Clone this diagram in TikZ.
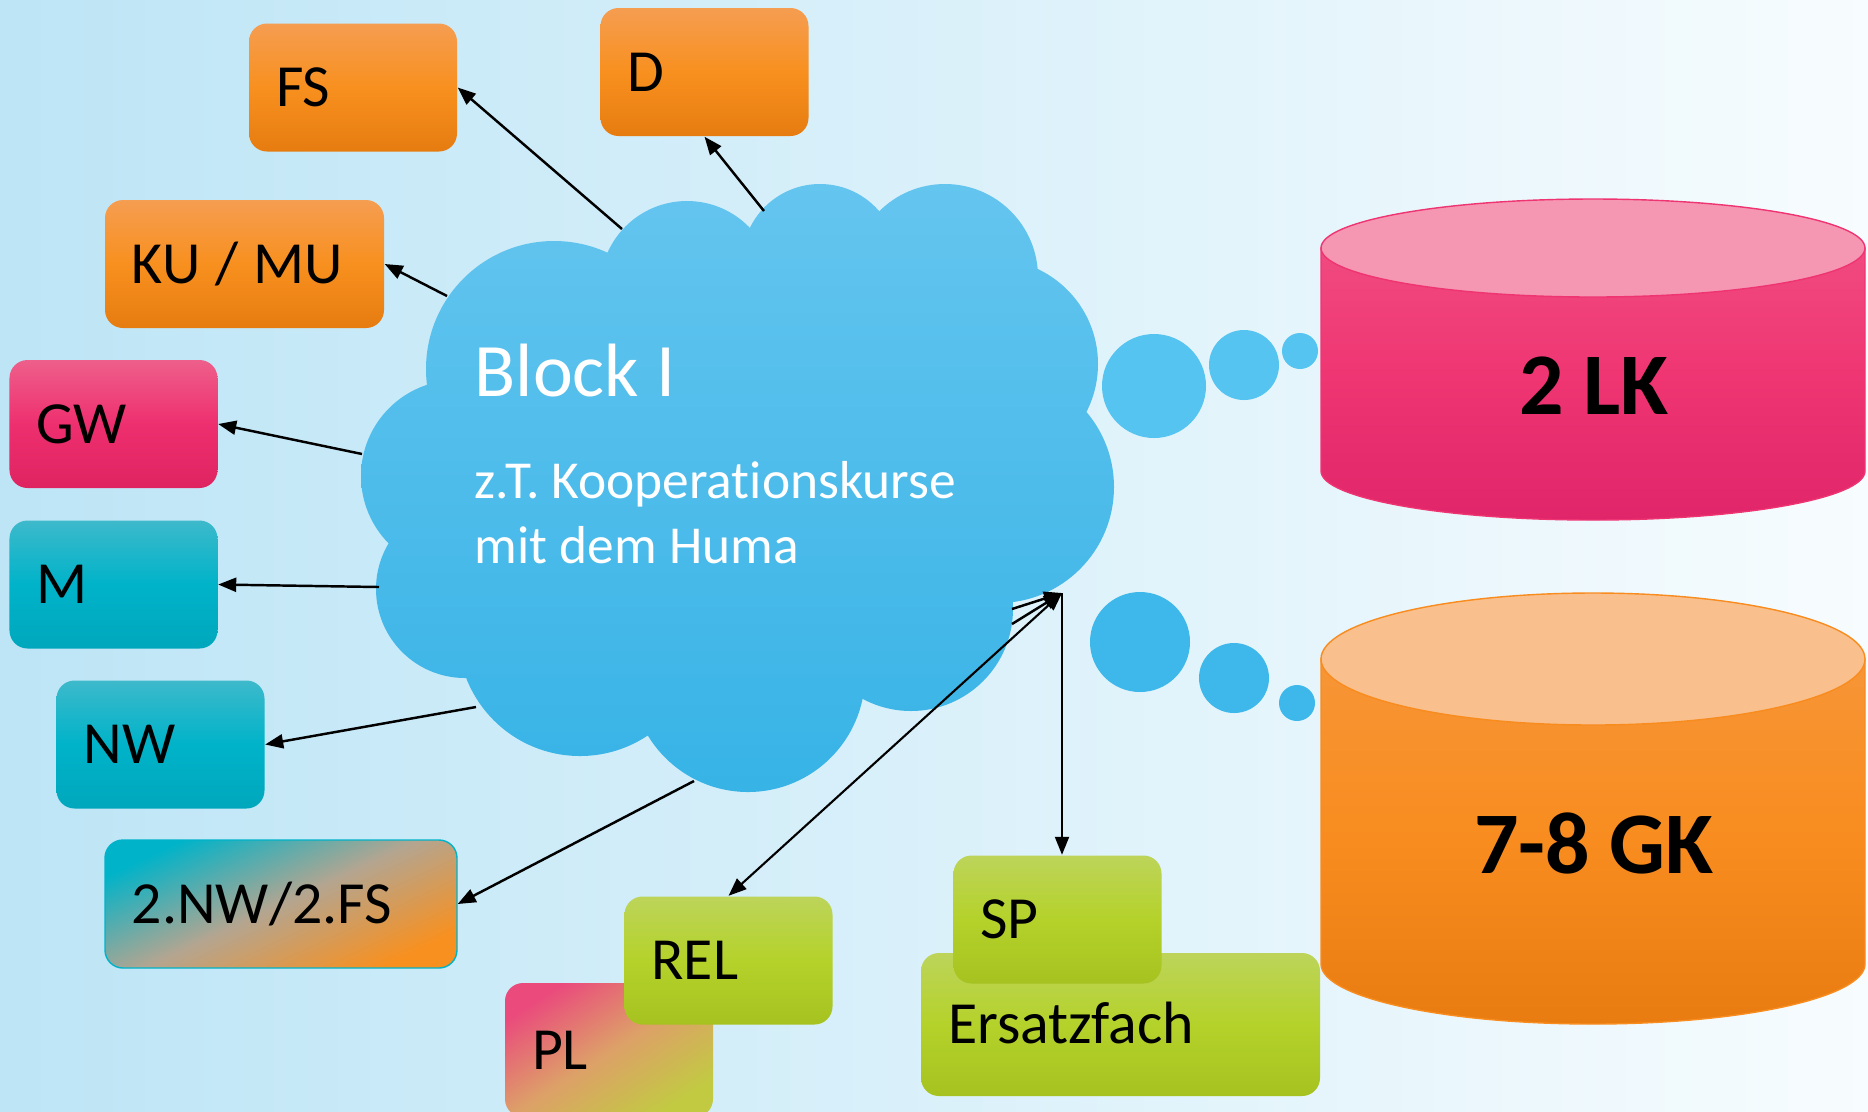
\documentclass[tikz,border=0pt]{standalone}
\usepackage{fontspec}
\setmainfont{Carlito}[Ligatures=NoCommon]
\usetikzlibrary{arrows.meta}
\definecolor{bgl}{HTML}{BDE5F6}
\definecolor{bgr}{HTML}{F7FCFE}
\definecolor{cloudtop}{HTML}{64C5EF}
\definecolor{cloudbot}{HTML}{37B3E6}
\definecolor{bubtop}{HTML}{55C4F1}
\definecolor{bubbot}{HTML}{3EB8EA}
\definecolor{ortop}{HTML}{F59D51}
\definecolor{ormid}{HTML}{F8901F}
\definecolor{orbot}{HTML}{E67C10}
\definecolor{pktop}{HTML}{EE5F8B}
\definecolor{pkmid}{HTML}{EE2F6F}
\definecolor{pkbot}{HTML}{DF2361}
\definecolor{tltop}{HTML}{3DB9CB}
\definecolor{tlmid}{HTML}{00B3C9}
\definecolor{tlbot}{HTML}{00A7BC}
\definecolor{grtop}{HTML}{BDD45A}
\definecolor{grmid}{HTML}{B4D22A}
\definecolor{grbot}{HTML}{A6C220}
\definecolor{mixgray}{HTML}{B4A590}
\definecolor{pltop}{HTML}{EA4B7C}
\definecolor{plmid}{HTML}{DDA068}
\definecolor{plbot}{HTML}{C2CA42}
\definecolor{lkcap}{HTML}{F596B3}
\definecolor{lktop}{HTML}{F04A80}
\definecolor{lkmid}{HTML}{EF3472}
\definecolor{lkbot}{HTML}{E0256A}
\definecolor{gkcap}{HTML}{F9BF8C}
\definecolor{gktop}{HTML}{F79536}
\definecolor{gkmid}{HTML}{F88C1F}
\definecolor{gkbot}{HTML}{E97C11}

\begin{document}
\begin{tikzpicture}[x=1mm,y=-1mm,
  box/.style={rounded corners=1.8mm, minimum width=20.8mm, minimum height=12.8mm,
    inner xsep=2.7mm, text width=15.4mm, align=left, text height=3.8mm, text depth=0mm,
    font=\fontsize{17}{20}\selectfont},
  fachor/.style={top color=ortop, bottom color=orbot, middle color=ormid},
  fachpk/.style={top color=pktop, bottom color=pkbot, middle color=pkmid},
  fachtl/.style={top color=tltop, bottom color=tlbot, middle color=tlmid},
  fachgr/.style={top color=grtop, bottom color=grbot, middle color=grmid},
  fachnwfs/.style={top color=tlmid, bottom color=ormid, middle color=mixgray, shading angle=25, draw=tlmid, line width=0.4pt},
  fachpl/.style={top color=pltop, bottom color=plbot, middle color=plmid, shading angle=33},
  wolke/.style={anchor=base west, text=white, inner sep=0pt},
  arr/.style={line width=0.7pt, -{Triangle[length=1.8mm,width=1.4mm]}},
  arrb/.style={line width=0.6pt, {Triangle[length=1.8mm,width=1.4mm]}-{Triangle[length=1.8mm,width=1.4mm]}}]
\useasboundingbox (0,0) rectangle (186.8,111.1);
\shade[left color=bgl, right color=bgr] (0,0) rectangle (186.8,111.1);

\shade[top color=cloudtop, bottom color=cloudbot]
  (55.4,36.9) circle[radius=12.8] (68.7,28.8) circle[radius=8.7]
  (82.0,26.2) circle[radius=7.8] (94.5,27.7) circle[radius=9.3]
  (99.3,36.4) circle[radius=10.5] (99.8,48.7) circle[radius=11.6]
  (91.1,60.9) circle[radius=10.2] (74.8,67.5) circle[radius=11.7]
  (58.0,63.4) circle[radius=12.2] (46.5,58.9) circle[radius=8.9]
  (45.7,47.6) circle[radius=9.6] (74,48) ellipse[x radius=28, y radius=20];

\fill[bubtop] (115.4,38.6) circle[radius=5.2] (124.4,36.5) circle[radius=3.5] (130.0,35.1) circle[radius=1.8];
\fill[bubbot] (114.0,64.2) circle[radius=5.0] (123.4,67.8) circle[radius=3.5] (129.7,70.3) circle[radius=1.8];

\shade[top color=lktop, bottom color=lkbot, middle color=lkmid, draw=lkmid, line width=0.4pt]
  (132.1,24.8) -- (132.1,47.1) arc[start angle=180, end angle=0, x radius=27.2, y radius=4.9] -- (186.5,24.8) -- cycle;
\filldraw[fill=lkcap, draw=lkmid, line width=0.4pt] (159.3,24.8) ellipse[x radius=27.2, y radius=4.9];
\shade[top color=gktop, bottom color=gkbot, middle color=gkmid, draw=gkmid, line width=0.4pt]
  (132.1,65.9) -- (132.1,96.4) arc[start angle=180, end angle=0, x radius=27.2, y radius=6.0] -- (186.5,65.9) -- cycle;
\filldraw[fill=gkcap, draw=gkmid, line width=0.4pt] (159.3,65.9) ellipse[x radius=27.2, y radius=6.6];
\node[font=\bfseries\fontsize{25}{30}\selectfont] (lk) at (159.4,38.6) {2 LK};
\node[font=\bfseries\fontsize{25}{30}\selectfont] (gk) at (159.4,84.3) {7-8 GK};

\node[box, fachor] (fs) at (35.3,8.75) {FS};
\node[box, fachor] (d) at (70.45,7.2) {D};
\node[box, fachor, minimum width=27.9mm, text width=22.5mm] (kumu) at (24.45,26.4) {KU\kern-0.5mm{} / \kern-0.5mm MU};
\node[box, fachpk] (gw) at (11.35,42.4) {GW};
\node[box, fachtl] (m) at (11.35,58.45) {M};
\node[box, fachtl] (nw) at (16.05,74.45) {NW};
\node[box, fachnwfs, minimum width=35.2mm, text width=29.8mm] (nwfs) at (28.1,90.4) {2.NW/2.FS};
\node[box, fachpl, minimum height=13.4mm] (pl) at (60.9,105.0) {PL};
\node[box, fachgr] (rel) at (72.85,96.05) {REL};
\node[box, fachgr, minimum width=39.9mm, text width=34.5mm, minimum height=14.3mm] (ersatz) at (112.05,102.45) {Ersatzfach};
\node[box, fachgr] (sp) at (105.75,91.95) {SP};

\node[wolke, font=\fontsize{21.5}{26}\selectfont] (block) at (47.4,39.6) {Block I};
\node[wolke, font=\fontsize{15.2}{18}\selectfont] (koop) at (47.4,49.8) {z.T. Kooperationskurse};
\node[wolke, font=\fontsize{15.2}{18}\selectfont] (huma) at (47.4,56.3) {mit dem Huma};

\coordinate (cfs) at (62.2,22.9);
\coordinate (cd) at (76.4,21.1);
\coordinate (cku) at (44.7,29.6);
\coordinate (cgw) at (36.2,45.4);
\coordinate (cm) at (37.9,58.7);
\coordinate (cnw) at (47.6,70.7);
\coordinate (cnwfs) at (69.4,78.1);
\coordinate (ca) at (101.2,60.9);
\coordinate (cb) at (101.2,62.4);
\coordinate (hub) at (106.2,59.3);

\draw[arr] (cfs) -- (fs.east);
\draw[arr] (cd) -- (d.south);
\draw[arr] (cku) -- (kumu.east);
\draw[arr] (cgw) -- (gw.east);
\draw[arr] (cm) -- (m.east);
\draw[arr] (cnw) -- (nw.east);
\draw[arr] (cnwfs) -- (nwfs.east);
\draw[arr] (ca) -- (hub);
\draw[arr] (cb) -- (hub);
\draw[arrb] (hub) -- (rel.north);
\draw[arr, line width=0.6pt] (hub) -- (hub |- sp.north);
\end{tikzpicture}
\end{document}
